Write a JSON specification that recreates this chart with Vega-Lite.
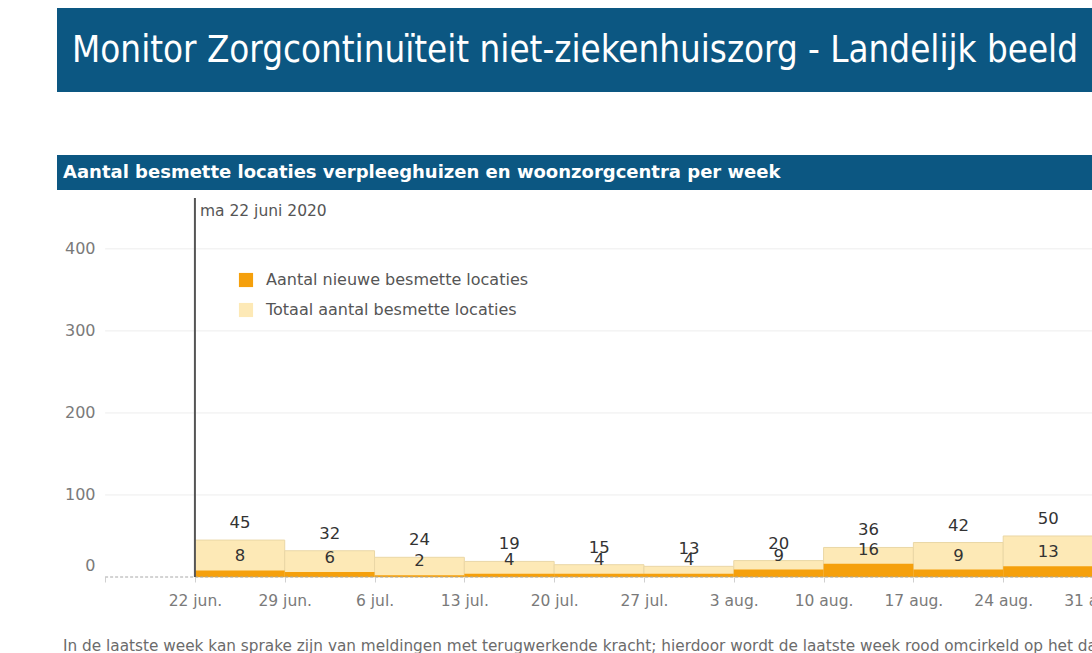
{
  "$schema": "https://vega.github.io/schema/vega-lite/v6.json",
  "background": "white",
  "padding": {"left": 57, "top": 8, "right": 0, "bottom": 0},
  "autosize": {"type": "pad"},
  "spacing": 63,
  "config": {
    "view": {"stroke": null},
    "font": "DejaVu Sans"
  },
  "vconcat": [
    {
      "width": 1036,
      "height": 84,
      "view": {"fill": "#0c5782", "stroke": null},
      "data": {"values": [{"t": "Monitor Zorgcontinuïteit niet-ziekenhuiszorg - Landelijk beeld"}]},
      "mark": {"type": "text", "align": "center", "baseline": "middle", "color": "white", "fontSize": 36.4, "font": "Liberation Sans Narrow, DejaVu Sans Condensed, sans-serif", "dy": 1},
      "encoding": {"text": {"field": "t"}}
    },
    {
      "spacing": 7,
      "vconcat": [
        {
          "width": 1036,
          "height": 35,
          "view": {"fill": "#0c5782", "stroke": null},
          "data": {"values": [{"t": "Aantal besmette locaties verpleeghuizen en woonzorgcentra per week"}]},
          "mark": {"type": "text", "align": "left", "baseline": "middle", "color": "white", "fontSize": 18, "fontWeight": "bold", "font": "DejaVu Sans", "dx": 6},
          "encoding": {
            "text": {"field": "t"},
            "x": {"datum": 0, "type": "quantitative", "scale": {"domain": [0, 1]}, "axis": null}
          }
        },
        {
          "width": 1036,
          "height": 379,
          "title": {
            "text": "In de laatste week kan sprake zijn van meldingen met terugwerkende kracht; hierdoor wordt de laatste week rood omcirkeld op het dashboard.",
            "orient": "bottom",
            "anchor": "start",
            "frame": "group",
            "offset": 30,
            "dx": 6,
            "fontSize": 15.3,
            "fontWeight": "normal",
            "color": "#6b6b6b",
            "font": "DejaVu Sans"
          },
          "data": {"values": [
            {"week": "2020-06-22", "end": "2020-06-29", "total": 45, "new": 8},
            {"week": "2020-06-29", "end": "2020-07-06", "total": 32, "new": 6},
            {"week": "2020-07-06", "end": "2020-07-13", "total": 24, "new": 2},
            {"week": "2020-07-13", "end": "2020-07-20", "total": 19, "new": 4},
            {"week": "2020-07-20", "end": "2020-07-27", "total": 15, "new": 4},
            {"week": "2020-07-27", "end": "2020-08-03", "total": 13, "new": 4},
            {"week": "2020-08-03", "end": "2020-08-10", "total": 20, "new": 9},
            {"week": "2020-08-10", "end": "2020-08-17", "total": 36, "new": 16},
            {"week": "2020-08-17", "end": "2020-08-24", "total": 42, "new": 9},
            {"week": "2020-08-24", "end": "2020-08-31", "total": 50, "new": 13}
          ]},
          "encoding": {
            "x": {
              "field": "week",
              "type": "temporal",
              "title": null,
              "scale": {
                "type": "utc",
                "padding": 0,
                "domain": [
                  {"year": 2020, "month": 6, "date": 11, "hours": 6, "utc": true},
                  {"year": 2020, "month": 8, "date": 31, "utc": true}
                ]
              },
              "axis": {
                "values": [
                  {"year": 2020, "month": 6, "date": 15, "utc": true},
                  {"year": 2020, "month": 6, "date": 22, "utc": true},
                  {"year": 2020, "month": 6, "date": 29, "utc": true},
                  {"year": 2020, "month": 7, "date": 6, "utc": true},
                  {"year": 2020, "month": 7, "date": 13, "utc": true},
                  {"year": 2020, "month": 7, "date": 20, "utc": true},
                  {"year": 2020, "month": 7, "date": 27, "utc": true},
                  {"year": 2020, "month": 8, "date": 3, "utc": true},
                  {"year": 2020, "month": 8, "date": 10, "utc": true},
                  {"year": 2020, "month": 8, "date": 17, "utc": true},
                  {"year": 2020, "month": 8, "date": 24, "utc": true},
                  {"year": 2020, "month": 8, "date": 31, "utc": true}
                ],
                "labelExpr": "(utcmonth(datum.value) == 5 && utcdate(datum.value) == 15) ? '' : utcdate(datum.value) + ' ' + ['jan.','feb.','mrt.','apr.','mei','jun.','jul.','aug.','sep.','okt.','nov.','dec.'][utcmonth(datum.value)]",
                "labelFlush": false,
                "labelOverlap": false,
                "labelFontSize": 15.5,
                "labelFont": "DejaVu Sans",
                "labelColor": "#7a7a7a",
                "labelPadding": 11,
                "tickSize": 5,
                "tickColor": "#d0d0d0",
                "domain": false,
                "grid": false
              }
            }
          },
          "layer": [
            {
              "data": {"values": [
                {"g": 100, "from": "2020-06-15", "to": "2020-08-31"},
                {"g": 200, "from": "2020-06-15", "to": "2020-08-31"},
                {"g": 300, "from": "2020-06-15", "to": "2020-08-31"},
                {"g": 400, "from": "2020-06-15", "to": "2020-08-31"}
              ]},
              "mark": {"type": "rule", "color": "#ededed", "strokeWidth": 1},
              "encoding": {
                "x": {"field": "from", "type": "temporal"},
                "x2": {"field": "to"},
                "y": {"field": "g", "type": "quantitative"}
              }
            },
            {
              "mark": {"type": "bar", "stroke": "#ead7a6", "strokeWidth": 1},
              "encoding": {
                "x2": {"field": "end"},
                "y": {
                  "field": "total",
                  "type": "quantitative",
                  "title": null,
                  "scale": {"domain": [0, 462], "nice": false, "padding": 0},
                  "axis": {
                    "values": [0, 100, 200, 300, 400],
                    "domain": false,
                    "ticks": false,
                    "tickSize": 0,
                    "grid": false,
                    "offset": -38,
                    "labelPadding": 0,
                    "labelFontSize": 16,
                    "labelFont": "DejaVu Sans",
                    "labelColor": "#7a7a7a",
                    "labelOffset": {"condition": {"test": "datum.value === 0", "value": -12}, "value": 0}
                  }
                },
                "y2": {"datum": 0},
                "color": {
                  "datum": "Totaal aantal besmette locaties",
                  "type": "nominal",
                  "scale": {
                    "domain": ["Aantal nieuwe besmette locaties", "Totaal aantal besmette locaties"],
                    "range": ["#f5a00c", "#fde9b6"]
                  },
                  "legend": {
                    "title": null,
                    "orient": "none",
                    "legendX": 181,
                    "legendY": 264,
                    "symbolType": "square",
                    "symbolSize": 200,
                    "symbolStrokeWidth": 0,
                    "labelFontSize": 16,
                    "labelColor": "#555555",
                    "labelFont": "DejaVu Sans",
                    "labelLimit": 500,
                    "rowPadding": 14,
                    "labelOffset": 12
                  }
                }
              }
            },
            {
              "mark": {"type": "bar"},
              "encoding": {
                "x2": {"field": "end"},
                "y": {"field": "new", "type": "quantitative"},
                "y2": {"datum": 0},
                "color": {"datum": "Aantal nieuwe besmette locaties", "type": "nominal"}
              }
            },
            {
              "data": {"values": [{"z": 0, "from": "2020-06-15", "to": "2020-08-31"}]},
              "mark": {"type": "rule", "color": "#a8a8a8", "strokeDash": [3, 2], "strokeWidth": 1},
              "encoding": {
                "x": {"field": "from", "type": "temporal"},
                "x2": {"field": "to"},
                "y": {"field": "z", "type": "quantitative"}
              }
            },
            {
              "mark": {"type": "text", "fontSize": 16.5, "color": "#333333", "baseline": "middle", "dx": 45, "dy": -17},
              "encoding": {
                "y": {"field": "total", "type": "quantitative"},
                "text": {"field": "total", "type": "quantitative"}
              }
            },
            {
              "mark": {"type": "text", "fontSize": 16.5, "color": "#333333", "baseline": "middle", "dx": 45, "dy": -14},
              "encoding": {
                "y": {"field": "new", "type": "quantitative"},
                "text": {"field": "new", "type": "quantitative"}
              }
            },
            {
              "data": {"values": [{"d": "2020-06-22", "label": "ma 22 juni 2020", "top": 462}]},
              "mark": {"type": "rule", "color": "#555555", "strokeWidth": 2},
              "encoding": {
                "x": {"field": "d", "type": "temporal"},
                "y": {"field": "top", "type": "quantitative"},
                "y2": {"datum": 0}
              }
            },
            {
              "data": {"values": [{"d": "2020-06-22", "label": "ma 22 juni 2020", "top": 462}]},
              "mark": {"type": "text", "align": "left", "baseline": "top", "dx": 5, "dy": 6, "fontSize": 15.5, "color": "#555555"},
              "encoding": {
                "x": {"field": "d", "type": "temporal"},
                "y": {"field": "top", "type": "quantitative"},
                "text": {"field": "label"}
              }
            }
          ]
        }
      ]
    }
  ]
}
